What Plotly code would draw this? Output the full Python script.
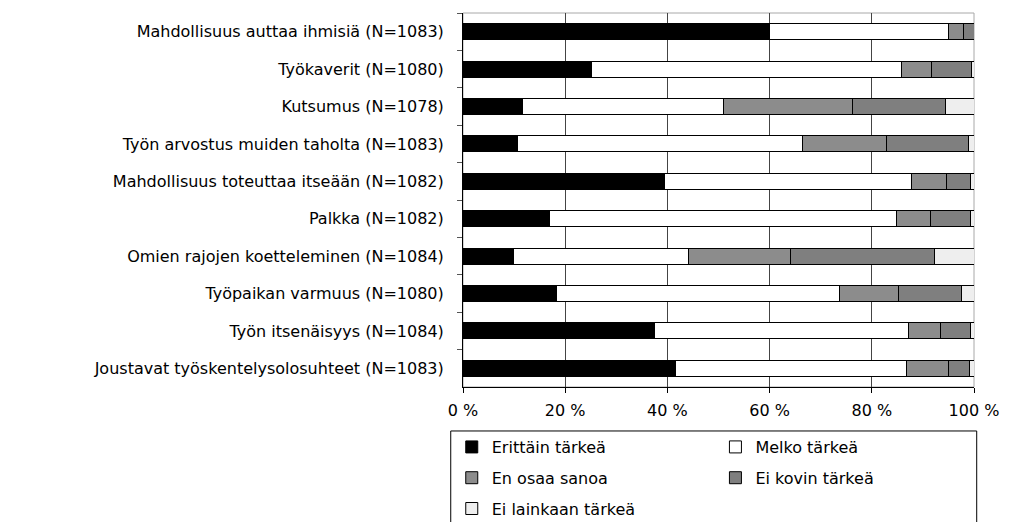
import plotly.graph_objects as go

categories = [
    "Mahdollisuus auttaa ihmisiä (N=1083)",
    "Työkaverit (N=1080)",
    "Kutsumus (N=1078)",
    "Työn arvostus muiden taholta (N=1083)",
    "Mahdollisuus toteuttaa itseään (N=1082)",
    "Palkka (N=1082)",
    "Omien rajojen koetteleminen (N=1084)",
    "Työpaikan varmuus (N=1080)",
    "Työn itsenäisyys (N=1084)",
    "Joustavat työskentelysolosuhteet (N=1083)",
]

erittain_tarkea = [60.0, 25.2, 11.6, 10.7, 39.4, 16.9, 9.9, 18.2, 37.4, 41.5]
melko_tarkea = [35.0, 60.6, 39.3, 55.7, 48.3, 67.9, 34.2, 55.5, 49.8, 45.3]
en_osaa_sanoa = [3.0, 5.8, 25.4, 16.4, 7.0, 6.6, 19.9, 11.5, 6.3, 8.2]
ei_kovin_tarkea = [2.0, 8.0, 18.1, 16.1, 4.6, 8.0, 28.3, 12.4, 5.9, 4.1]
ei_lainkaan_tarkea = [0.0, 0.4, 5.6, 1.1, 0.7, 0.6, 7.7, 2.4, 0.6, 0.9]

series_names = ["Erittäin tärkeä", "Melko tärkeä", "En osaa sanoa",
                "Ei kovin tärkeä", "Ei lainkaan tärkeä"]
series_values = [erittain_tarkea, melko_tarkea, en_osaa_sanoa,
                 ei_kovin_tarkea, ei_lainkaan_tarkea]
series_colors = ["#000000", "#ffffff", "#8c8c8c", "#7f7f7f", "#eeeeee"]
series_legend = ["legend", "legend2", "legend", "legend2", "legend"]

x_tickvals = [0, 20, 40, 60, 80, 100]
x_ticktext = ["0 %", "20 %", "40 %", "60 %", "80 %", "100 %"]

FONT = "DejaVu Sans"
FS = 16

fig = go.Figure()
for i, (name, vals, col, lg) in enumerate(zip(series_names, series_values,
                                              series_colors, series_legend)):
    fig.add_trace(go.Bar(
        y=categories, x=vals, name=name, orientation="h",
        marker=dict(color=col, line=dict(color="#000000", width=1)),
        legend=lg, legendgroup=f"g{i}",
    ))

legend_common = dict(
    orientation="v", yanchor="top", xanchor="left",
    borderwidth=0, bgcolor="rgba(0,0,0,0)",
    tracegroupgap=7, traceorder="grouped",
    font=dict(family=FONT, size=FS, color="#000000"),
)

fig.update_layout(
    width=1014, height=522,
    barmode="stack", bargap=0.57,
    paper_bgcolor="white", plot_bgcolor="white",
    margin=dict(l=455, r=48, t=5, b=143, autoexpand=False),
    font=dict(family=FONT, size=FS, color="#000000"),
    showlegend=True,
    legend=dict(x=-0.022, y=-0.115, **legend_common),
    legend2=dict(x=0.494, y=-0.115, **legend_common),
    shapes=[
        dict(type="rect", xref="paper", yref="paper", x0=0, x1=1, y0=0, y1=1,
             line=dict(color="#a8a8a8", width=1), layer="below"),
        dict(type="rect", xref="paper", yref="paper", x0=-0.024, x1=1.0053,
             y0=-0.1176, y1=-0.42, line=dict(color="#000000", width=1),
             fillcolor="rgba(0,0,0,0)"),
    ],
)

fig.update_xaxes(
    range=[0, 100], tickvals=x_tickvals, ticktext=x_ticktext,
    showgrid=True, gridcolor="#444444", gridwidth=1,
    showline=True, linecolor="#000000", linewidth=1,
    ticks="outside", ticklen=5, tickcolor="#000000",
    ticklabelstandoff=4, zeroline=False,
    tickfont=dict(family=FONT, size=FS, color="#000000"),
)

fig.update_yaxes(
    categoryorder="array", categoryarray=categories, autorange="reversed",
    showgrid=False, showline=True, linecolor="#000000", linewidth=1,
    ticks="outside", ticklen=5, tickcolor="#555555", tickson="boundaries",
    ticklabelstandoff=15,
    tickfont=dict(family=FONT, size=FS, color="#000000"),
)

fig.write_html("out.html")
